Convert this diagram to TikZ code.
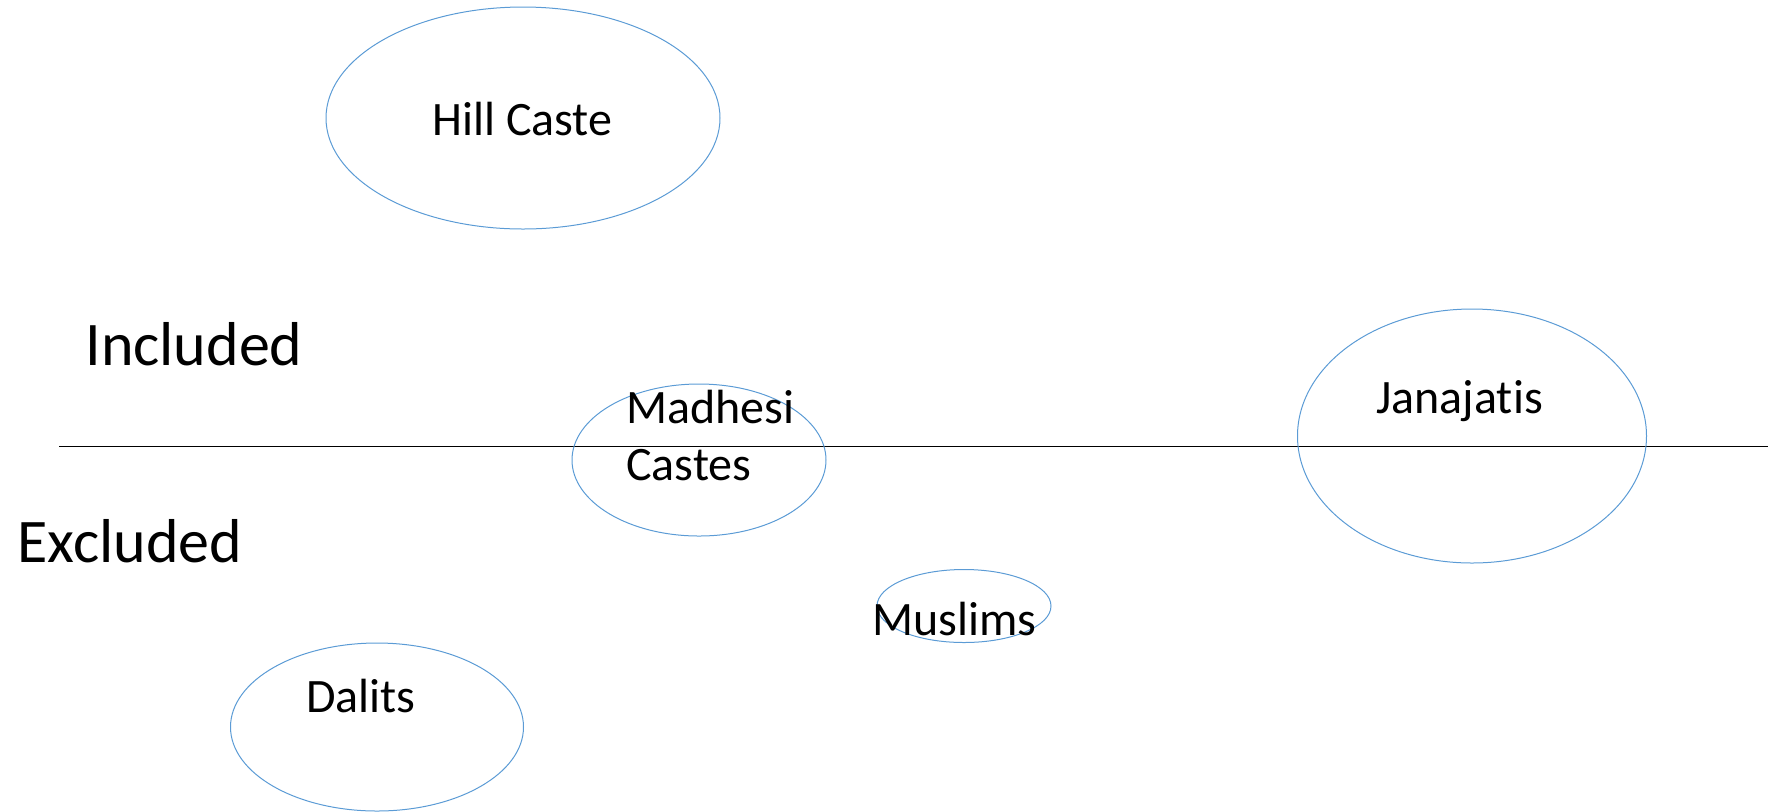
\documentclass[tikz,border=0pt]{standalone}
\usepackage{fontspec}
\setmainfont{Carlito}[Ligatures=NoCommon]
\usepackage{tikz}
\usetikzlibrary{positioning, shapes.geometric}
\definecolor{ellblue}{HTML}{5B9BD5}

\begin{document}
\begin{tikzpicture}[x=0.5pt, y=-0.5pt,
    group/.style={ellipse, draw=ellblue, line width=0.5pt, inner sep=0pt},
    grouplabel/.style={anchor=base west, inner sep=0pt, font=\fontsize{24}{28.5}\selectfont},
    sidelabel/.style={anchor=base west, inner sep=0pt, font=\fontsize{31}{38}\selectfont}]
  \useasboundingbox (0,0) rectangle (1768,811);

  % dividing line
  \coordinate (lineW) at (59,446);
  \coordinate (lineE) at (1768,446);
  \draw[line width=0.5pt] (lineW) -- (lineE);

  \node[sidelabel] (included) at (85,365) {Included};
  \node[sidelabel] (excluded) at (17,562) {Excluded};

  % groups
  \node[group, minimum width=394pt/2, minimum height=222pt/2] (hill) at (523,118) {};
  \node[group, minimum width=254pt/2, minimum height=152pt/2] (madhesi) at (699,460) {};
  \node[group, minimum width=349pt/2, minimum height=254pt/2] (jana) at (1472,436) {};
  \node[group, minimum width=174pt/2, minimum height=73pt/2] (muslim) at (964,606) {};
  \node[group, minimum width=293pt/2, minimum height=168pt/2] (dalit) at (377,727) {};

  \node[grouplabel] (hilltext) at (432,135) {Hill Caste};
  \node[grouplabel, align=left] (madhesitext) at (626,480) {Madhesi\\Castes};
  \node[grouplabel] (janatext) at (1376,413) {Janajatis};
  \node[grouplabel] (muslimtext) at (872,635) {Muslims};
  \node[grouplabel] (dalittext) at (306,712) {Dalits};
\end{tikzpicture}
\end{document}
